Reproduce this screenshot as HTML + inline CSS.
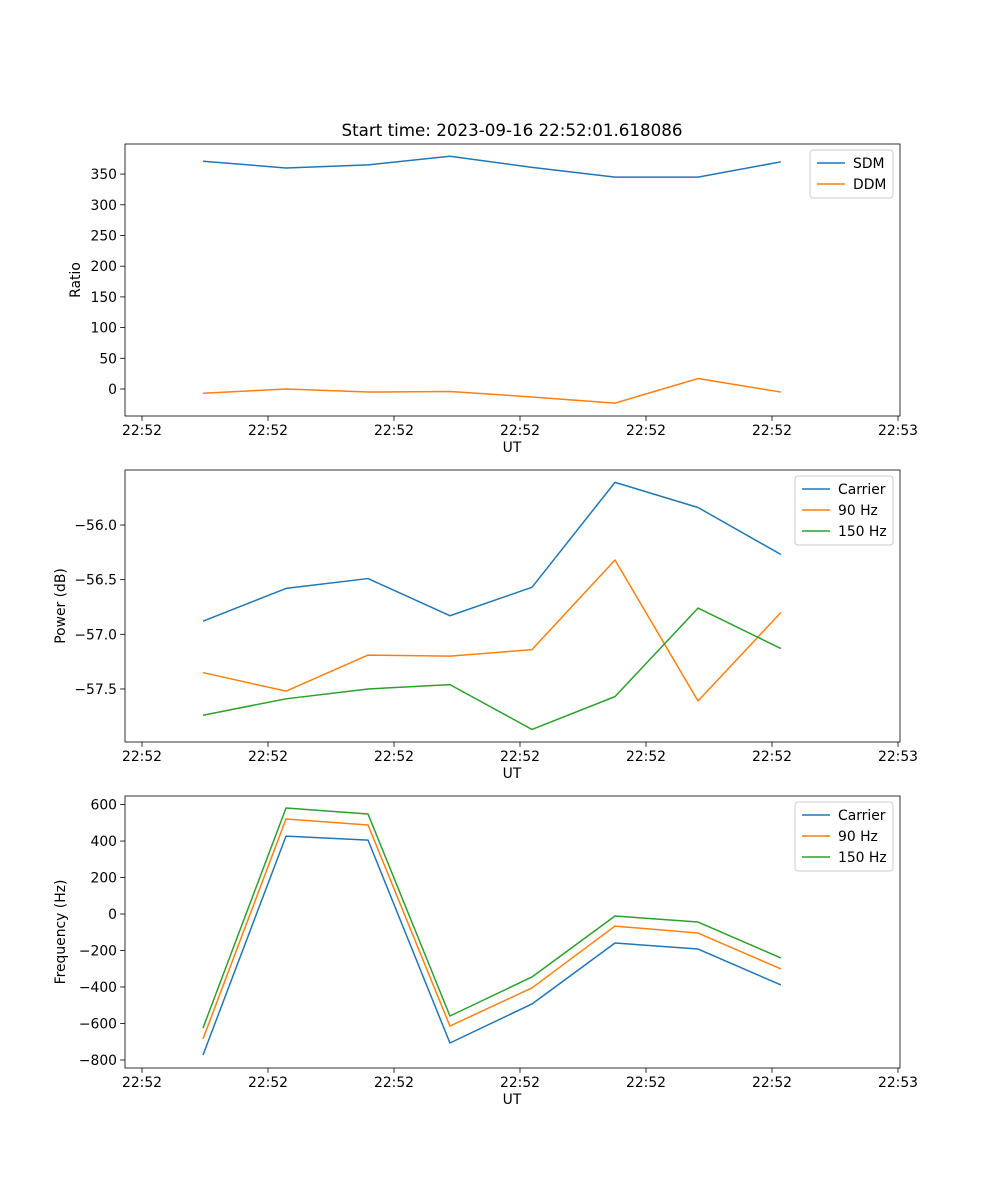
<!DOCTYPE html>
<html><head><meta charset="utf-8"><style>
html,body{margin:0;padding:0;background:#fff;}
svg{display:block;font-family:"DejaVu Sans","Liberation Sans",sans-serif;}
</style></head><body>
<svg id="fig" width="1000" height="1200" viewBox="0 0 1000 1200">
<rect width="1000" height="1200" fill="#fff"/>
<text x="512" y="136" text-anchor="middle" font-size="16.7">Start time: 2023-09-16 22:52:01.618086</text>
</svg>
<script>
const times=[0.484,1.143,1.794,2.444,3.095,3.754,4.413,5.071];
const xTickVals=[0,1,2,3,4,5,6];
const xTickLabels=["22:52","22:52","22:52","22:52","22:52","22:52","22:53"];
const sdm=[371,360,365,379,361,345,345,370];
const ddm=[-7,0,-5,-4,-13,-23,17,-5];
const pCarrier=[-56.88,-56.58,-56.49,-56.83,-56.57,-55.61,-55.84,-56.27];
const p90=[-57.35,-57.52,-57.19,-57.20,-57.14,-56.32,-57.61,-56.80];
const p150=[-57.74,-57.59,-57.50,-57.46,-57.87,-57.57,-56.76,-57.13];
const fCarrier=[-773,427,405,-707,-493,-159,-192,-389];
const f90=[-685,521,488,-614,-405,-66,-104,-301];
const f150=[-625,581,548,-559,-345,-11,-44,-241];
const ticks1=[0,50,100,150,200,250,300,350];
const ticks2=[-57.5,-57.0,-56.5,-56.0];
const ticks3=[-800,-600,-400,-200,0,200,400,600];

const NS="http://www.w3.org/2000/svg";
const svg=document.getElementById('fig');
function mk(tag,attrs,parent){const e=document.createElementNS(NS,tag);for(const k in attrs)e.setAttribute(k,attrs[k]);(parent||svg).appendChild(e);return e;}
const L=125,R=900;
const xs=v=>142+(v-0)*126;
function panel(id,top,bot,ymin,ymax,yt,fmt,ylabel,series,legend){
  const g=mk('g',{});
  
  
  const ys=v=>bot-(v-ymin)/(ymax-ymin)*(bot-top);
  xTickVals.forEach((v,i)=>{
    const x=xs(v);
    const t=mk('line',{x1:x,x2:x,y1:bot,y2:bot+4.9,stroke:'#000','stroke-width':0.8},g);
    
    
    const tx=mk('text',{x:x,y:bot+19,'text-anchor':'middle','font-size':13.9},g);
    
    
    tx.textContent=xTickLabels[i];
  });
  yt.forEach(v=>{
    const y=ys(v);
    const t=mk('line',{x1:L-4.9,x2:L,y1:y,y2:y,stroke:'#000','stroke-width':0.8},g);
    
    
    const tx=mk('text',{x:L-8,y:y+5,'text-anchor':'end','font-size':13.9},g);
    
    
    tx.textContent=fmt(v).replace('-','\u2212');
  });
  const xl=mk('text',{x:512,y:bot+36,'text-anchor':'middle','font-size':13.9},g);
  
  
  xl.textContent='UT';
  const yl=mk('text',{x:0,y:0,'text-anchor':'middle','font-size':13.9,transform:`translate(${id==='ratio'?80:65},${(top+bot)/2}) rotate(-90)`},g);
  
  
  yl.textContent=ylabel;
  series.forEach(s=>{
    const p=mk('polyline',{points:s.d.map((v,i)=>xs(times[i])+','+ys(v)).join(' '),fill:'none',stroke:s.c,'stroke-width':1.5,'stroke-linejoin':'round'},g);
    
    
  });
  const fr=mk('rect',{x:L,y:top,width:R-L,height:bot-top,fill:'none',stroke:'#000','stroke-width':0.8},g);
  
  
  const lg=mk('g',{},g);
  
  
  const lw=legend.w, lx=893-lw, ly=top+6;
  mk('rect',{x:lx,y:ly,width:lw,height:series.length*21+6,rx:3,fill:'#fff','fill-opacity':0.8,stroke:'#ccc'},lg);
  series.forEach((s,i)=>{
    const y=ly+13+i*21;
    const e=mk('g',{},lg);
    
    
    mk('line',{x1:lx+7,x2:lx+35,y1:y,y2:y,stroke:s.c,'stroke-width':1.5},e);
    const t=mk('text',{x:lx+43,y:y+5,'font-size':13.9},e);
    t.textContent=s.n;
  });
}
const C1='#1f77b4',C2='#ff7f0e',C3='#2ca02c';
panel('ratio',144,416,-44,399,ticks1,v=>String(v),'Ratio',[{n:'SDM',d:sdm,c:C1},{n:'DDM',d:ddm,c:C2}],{w:83});
panel('power',470,742,-57.985,-55.497,ticks2,v=>v.toFixed(1),'Power (dB)',[{n:'Carrier',d:pCarrier,c:C1},{n:'90 Hz',d:p90,c:C2},{n:'150 Hz',d:p150,c:C3}],{w:98});
panel('frequency',796,1068,-844,647,ticks3,v=>String(v),'Frequency (Hz)',[{n:'Carrier',d:fCarrier,c:C1},{n:'90 Hz',d:f90,c:C2},{n:'150 Hz',d:f150,c:C3}],{w:98});
</script>
</body></html>
